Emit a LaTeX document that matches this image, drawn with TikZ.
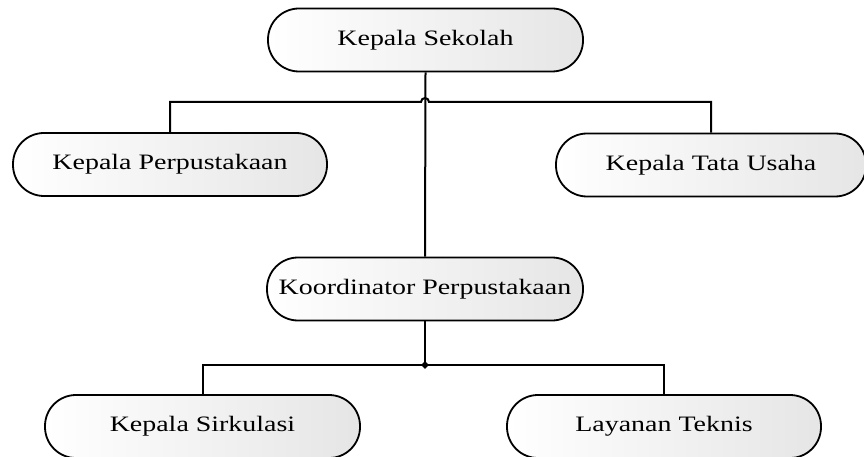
\documentclass[tikz,border=0pt]{standalone}
\usepackage{fontspec}
\usepackage{graphicx}
\setmainfont{Liberation Serif}
\usetikzlibrary{shapes.geometric}
\newcommand\wtxt[1]{\scalebox{1.27}[1]{#1}}
\tikzset{
  orgbox/.style={draw=black, line width=1.8pt, rectangle, rounded corners=31pt,
    minimum height=63pt, left color=white, right color=black!10,
    font=\fontsize{22}{26}\selectfont, inner sep=0pt},
  conn/.style={line width=2pt, draw=black},
}
\begin{document}
\begin{tikzpicture}[x=1pt,y=-1pt]
\useasboundingbox (0,0) rectangle (864,457);
\fill[white] (0,0) rectangle (864,457);
\node[orgbox, minimum width=315pt] (ks) at (425.5,40) {\wtxt{Kepala Sekolah}};
\node[orgbox, minimum width=314pt] (kp) at (170,164.5) {\wtxt{Kepala Perpustakaan}};
\node[orgbox, minimum width=310pt] (ktu) at (711,165) {\wtxt{Kepala Tata Usaha}};
\node[orgbox, minimum width=316pt] (kop) at (425,289) {\wtxt{Koordinator Perpustakaan}};
\node[orgbox, minimum width=315pt] (ksi) at (202.5,426.5) {\wtxt{Kepala Sirkulasi}};
\node[orgbox, minimum width=314pt] (lt) at (664,426.5) {\wtxt{Layanan Teknis}};
\coordinate (jl) at (421,102);
\coordinate (jb) at (425,365);
% top level
\draw[conn] (ks.south) -- (kop.north);
\draw[conn] (kp.north) |- (jl) arc[start angle=180,end angle=0,radius=4pt] -| (ktu.north);
% bottom level
\draw[conn] (kop.south) -- (jb);
\draw[conn] (ksi.north) |- (jb) -| (lt.north);
\node[diamond, fill=black, inner sep=0pt, minimum size=8pt] (jd) at (jb) {};
\end{tikzpicture}
\end{document}
